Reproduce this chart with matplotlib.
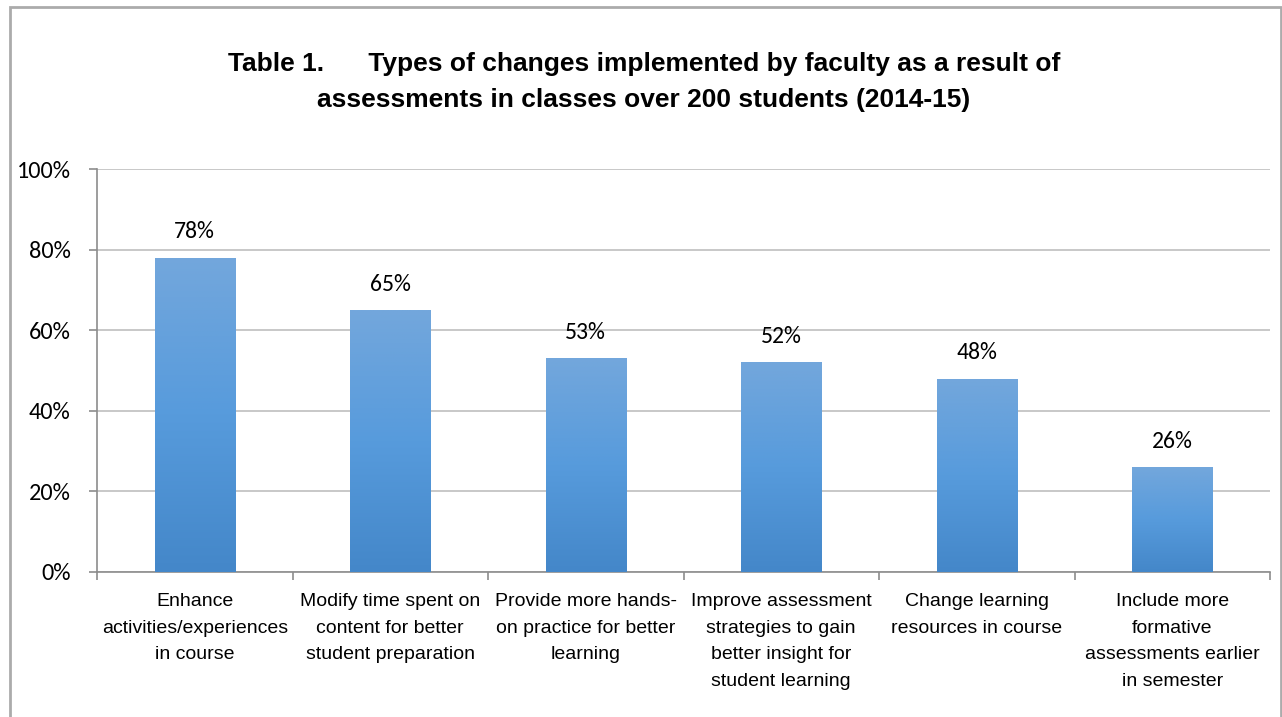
import matplotlib
matplotlib.use("Agg")
import matplotlib.pyplot as plt
import numpy as np
from matplotlib.colors import LinearSegmentedColormap
from matplotlib.patches import Rectangle

categories = [
    "Enhance\nactivities/experiences\nin course",
    "Modify time spent on\ncontent for better\nstudent preparation",
    "Provide more hands-\non practice for better\nlearning",
    "Improve assessment\nstrategies to gain\nbetter insight for\nstudent learning",
    "Change learning\nresources in course",
    "Include more\nformative\nassessments earlier\nin semester",
]
values = [78, 65, 53, 52, 48, 26]
y_ticks = [0, 20, 40, 60, 80, 100]
title = "Table 1.      Types of changes implemented by faculty as a result of\nassessments in classes over 200 students (2014-15)"

narrow = ["Liberation Sans Narrow", "Liberation Sans", "DejaVu Sans"]
calib = ["Carlito", "Calibri", "Lato", "DejaVu Sans"]

fig = plt.figure(figsize=(12.82, 7.17), dpi=100)
fig.patch.set_facecolor("white")
ax = fig.add_axes([97/1282, (717-572)/717, (1270-97)/1282, (572-169)/717])

x = np.arange(len(values))
bars = ax.bar(x, values, width=0.41, color="none", edgecolor="none", zorder=3)

cmap = LinearSegmentedColormap.from_list(
    "g", [(0.0, "#4487C9"), (0.5, "#579BDC"), (1.0, "#73A7DC")])
grad = np.linspace(0, 1, 256).reshape(-1, 1)
for b in bars:
    x0, w, h = b.get_x(), b.get_width(), b.get_height()
    im = ax.imshow(grad, cmap=cmap, origin="lower", aspect="auto",
                   extent=[x0, x0 + w, 0, h], zorder=3)
    im.set_clip_path(b)

for xi, v in zip(x, values):
    ax.annotate(f"{v}%", (xi, v), xytext=(0, 11), textcoords="offset points",
                ha="center", va="bottom", fontsize=17, family=calib, color="black")

ax.set_xlim(-0.5, len(values) - 0.5)
ax.set_ylim(0, 100)
ax.set_yticks(y_ticks)
ax.set_yticklabels([f"{t}%" for t in y_ticks], family=calib, fontsize=17.5)
ax.yaxis.grid(True, color="#BFBFBF", linewidth=1.2, zorder=0)
ax.set_axisbelow(True)

ax.set_xticks(np.arange(-0.5, len(values), 1.0))
ax.set_xticklabels([])
ax.set_xticks(x, minor=True)
ax.set_xticklabels(categories, minor=True, family=narrow, fontsize=14,
                   linespacing=1.75, va="top")
ax.tick_params(axis="x", which="minor", length=0, pad=15)
ax.tick_params(axis="x", which="major", length=6, color="#8C8C8C", width=1.2)
ax.tick_params(axis="y", length=6, color="#8C8C8C", width=1.2, pad=13)

for s in ["top", "right"]:
    ax.spines[s].set_visible(False)
for s in ["left", "bottom"]:
    ax.spines[s].set_color("#8C8C8C")
    ax.spines[s].set_linewidth(1.2)

fig.text(644/1282, 1 - 82/717, title, ha="center", va="center",
         family=narrow, fontweight="bold", fontsize=19, linespacing=1.68)

fig.patches.append(Rectangle((10/1282, -0.01), 1271/1282, 1 - 7/717 + 0.01,
                             transform=fig.transFigure, fill=False,
                             edgecolor="#ABABAB", linewidth=2))

fig.savefig("out.png", dpi=100, facecolor="white")
